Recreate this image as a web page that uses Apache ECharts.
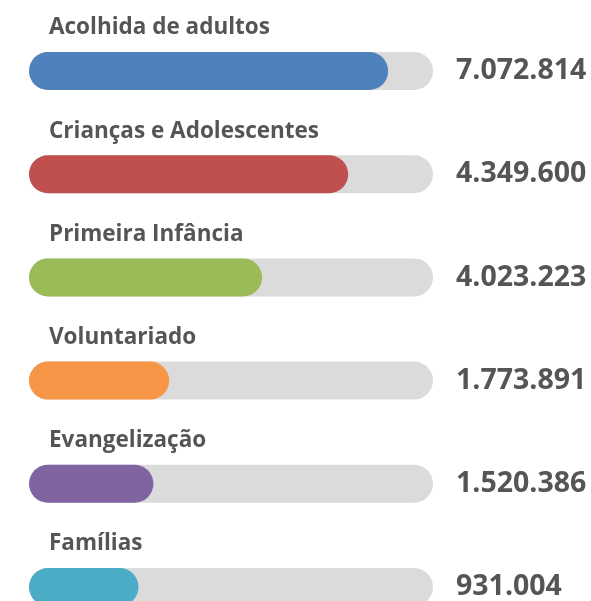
<!DOCTYPE html>
<html>
<head>
<meta charset="utf-8">
<script src="https://cdn.jsdelivr.net/npm/echarts@6/dist/echarts.min.js"></script>
<style>
html,body{margin:0;padding:0;background:#fff;overflow:hidden;}
#chart{width:591px;height:660px;}
</style>
</head>
<body>
<div id="chart"></div>
<script>
// Data
var categories = ['Acolhida de adultos', 'Crianças e Adolescentes', 'Primeira Infância', 'Voluntariado', 'Evangelização', 'Famílias'];
var totals = [7072814, 4349600, 4023223, 1773891, 1520386, 931004];
var fillPercent = [88.9, 79.0, 57.7, 34.7, 30.8, 27.1];
var trackMax = [100, 100, 100, 100, 100, 100];
var colors = ['#4F81BD', '#C0504D', '#9BBB59', '#F79646', '#8064A2', '#4BACC6'];

function fmt(n) {
  return String(n).replace(/\B(?=(\d{3})+(?!\d))/g, '.');
}

var chart = echarts.init(document.getElementById('chart'), null, {renderer: 'canvas'});
var font = '"Open Sans", "Noto Sans", sans-serif';
chart.setOption({
  animation: false,
  grid: {left: 29, top: 19.4, width: 404, height: 619.2, containLabel: false},
  xAxis: {type: 'value', min: 0, max: 100, show: false},
  yAxis: {type: 'category', data: categories, inverse: true, show: false},
  series: [
    {
      type: 'bar',
      data: trackMax,
      barWidth: 38,
      barGap: '-100%',
      z: 1,
      silent: true,
      itemStyle: {color: '#DBDBDB', borderRadius: 19},
      label: {
        show: true,
        position: 'right',
        distance: 23,
        color: '#555555',
        fontFamily: font,
        fontWeight: 'bold',
        fontSize: 28.5,
        formatter: function (p) { return fmt(totals[p.dataIndex]); }
      }
    },
    {
      type: 'bar',
      data: fillPercent.map(function (v, i) { return {value: v, itemStyle: {color: colors[i]}}; }),
      barWidth: 38,
      barGap: '-100%',
      z: 2,
      silent: true,
      itemStyle: {borderRadius: 19},
      label: {
        show: true,
        position: [20, -24],
        align: 'left',
        verticalAlign: 'middle',
        color: '#555555',
        fontFamily: font,
        fontWeight: 'bold',
        fontSize: 22.5,
        formatter: function (p) { return categories[p.dataIndex]; }
      }
    }
  ]
});
</script>
</body>
</html>
